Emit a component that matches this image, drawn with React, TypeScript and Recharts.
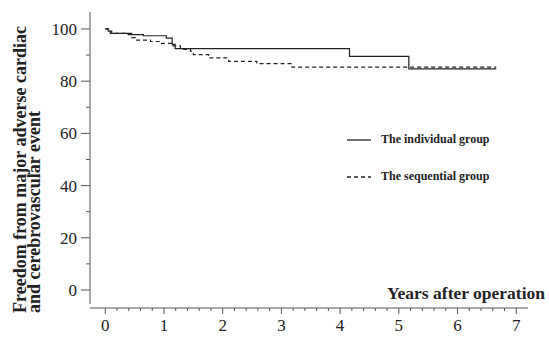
import { LineChart, Line, XAxis, YAxis, ReferenceLine } from 'recharts';

// Kaplan-Meier style step curves
const INDIVIDUAL = [
  { t: 0, v: 100 }, { t: 0.05, v: 99.2 }, { t: 0.11, v: 98.3 }, { t: 0.45, v: 97.8 },
  { t: 0.65, v: 97.4 }, { t: 1.04, v: 96.5 }, { t: 1.14, v: 94.1 }, { t: 1.19, v: 92.5 },
  { t: 4.16, v: 89.5 }, { t: 5.17, v: 84.7 }, { t: 6.66, v: 84.7 },
];
const SEQUENTIAL = [
  { t: 0, v: 100 }, { t: 0.085, v: 98.3 }, { t: 0.37, v: 97.8 }, { t: 0.45, v: 96.7 },
  { t: 0.51, v: 95.7 }, { t: 0.77, v: 95.2 }, { t: 0.94, v: 94.5 }, { t: 1.14, v: 93.5 },
  { t: 1.28, v: 92.2 }, { t: 1.45, v: 91.5 }, { t: 1.5, v: 90.2 }, { t: 1.76, v: 88.9 },
  { t: 2.1, v: 87.6 }, { t: 2.58, v: 86.7 }, { t: 3.18, v: 85.4 }, { t: 6.66, v: 85.4 },
];

const X_MAJOR = [0, 1, 2, 3, 4, 5, 6, 7];
const Y_MAJOR = [0, 20, 40, 60, 80, 100];
const X_TICKS = X_MAJOR.flatMap(m => (m < 7 ? [m, m + 0.2, m + 0.4, m + 0.6, m + 0.8] : [m]));
const Y_TICKS = Y_MAJOR.flatMap(m => (m < 100 ? [m, m + 10] : [m]));
const X_DOMAIN = [-0.26, 7.2];
const Y_DOMAIN = [-6.9, 106.5];
const Y_AXIS_BOTTOM = -5.4; // y axis line stops short of the x axis

const SERIF = '"Liberation Serif", "Times New Roman", serif';
const INK = '#222';
const AXIS = '#555';

function XTick({ x, y, payload }: any) {
  const v = payload.value;
  const major = Math.abs(v - Math.round(v)) < 1e-6;
  return (
    <g>
      <line x1={x} x2={x} y1={y} y2={y + (major ? 6 : 3)} stroke={AXIS} />
      {major && (
        <text x={x} y={y + 23} textAnchor="middle" fontFamily={SERIF} fontSize={17} fill={INK}>
          {Math.round(v)}
        </text>
      )}
    </g>
  );
}

function YTick({ x, y, payload }: any) {
  const v = payload.value;
  const major = v % 20 === 0;
  return (
    <g>
      <line x1={x} x2={x - (major ? 9 : 4)} y1={y} y2={y} stroke={AXIS} />
      {major && (
        <text x={x - 13} y={y + 6} textAnchor="end" fontFamily={SERIF} fontSize={17} fill={INK}>
          {v}
        </text>
      )}
    </g>
  );
}

function LegendBox() {
  const row = (dash: string | undefined, label: string) => (
    <div style={{ display: 'flex', alignItems: 'center', height: 37 }}>
      <svg width={34} height={6}>
        <line x1={0} x2={24} y1={3} y2={3} stroke={INK} strokeWidth={1.3} strokeDasharray={dash} />
      </svg>
      <span style={{ fontFamily: SERIF, fontWeight: 'bold', fontSize: 12, color: INK }}>{label}</span>
    </div>
  );
  return (
    <div style={{ position: 'absolute', left: 347, top: 121, width: 190 }}>
      {row(undefined, 'The individual group')}
      {row('4 3', 'The sequential group')}
    </div>
  );
}

export default function App() {
  return (
    <div style={{ position: 'absolute', left: 0, top: 0, width: 549, height: 337, background: '#fff' }}>
      <LineChart width={549} height={337} margin={{ top: 12, right: 21, bottom: 0, left: 0 }}>
        <XAxis
          type="number"
          dataKey="t"
          domain={X_DOMAIN}
          ticks={X_TICKS}
          interval={0}
          allowDataOverflow
          height={29}
          tickSize={0}
          tickMargin={0}
          tickLine={false}
          axisLine={{ stroke: AXIS }}
          tick={<XTick />}
        />
        <YAxis
          type="number"
          dataKey="v"
          domain={Y_DOMAIN}
          ticks={Y_TICKS}
          interval={0}
          allowDataOverflow
          width={90}
          tickSize={0}
          tickMargin={0}
          tickLine={false}
          axisLine={false}
          tick={<YTick />}
        />
        <ReferenceLine
          segment={[{ x: X_DOMAIN[0], y: Y_AXIS_BOTTOM }, { x: X_DOMAIN[0], y: Y_DOMAIN[1] }]}
          stroke={AXIS}
          ifOverflow="visible"
        />
        <Line
          data={INDIVIDUAL}
          dataKey="v"
          type="stepAfter"
          stroke={INK}
          strokeWidth={1.2}
          dot={false}
          isAnimationActive={false}
          name="The individual group"
        />
        <Line
          data={SEQUENTIAL}
          dataKey="v"
          type="stepAfter"
          stroke={INK}
          strokeWidth={1.2}
          strokeDasharray="4 3"
          dot={false}
          isAnimationActive={false}
          name="The sequential group"
        />
        <text transform="rotate(-90, 26, 313)" x={26} y={313} fontFamily={SERIF} fontWeight="bold" fontSize={18} fill={INK}>
          Freedom from major adverse cardiac
        </text>
        <text transform="rotate(-90, 40, 313)" x={40} y={313} fontFamily={SERIF} fontWeight="bold" fontSize={18} fill={INK}>
          and cerebrovascular event
        </text>
        <text x={545} y={299} textAnchor="end" fontFamily={SERIF} fontWeight="bold" fontSize={17.5} fill={INK}>
          Years after operation
        </text>
      </LineChart>
      <LegendBox />
    </div>
  );
}
